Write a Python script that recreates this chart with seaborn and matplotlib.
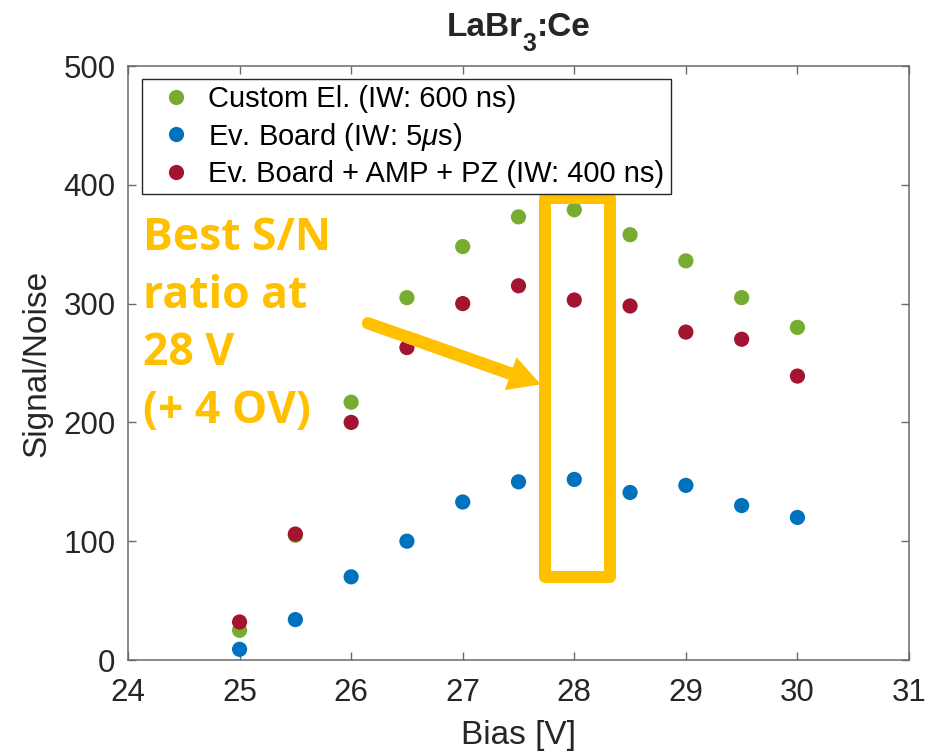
import matplotlib
matplotlib.use("Agg")
import matplotlib.pyplot as plt
from matplotlib.patches import Rectangle, FancyArrowPatch
import pandas as pd
import seaborn as sns

# Bias voltage scan of the LaBr3:Ce + SiPM setup
bias_v = [25, 25.5, 26, 26.5, 27, 27.5, 28, 28.5, 29, 29.5, 30]
snr_custom = [25, 105, 217, 305, 348, 373, 379, 358, 336, 305, 280]
snr_evboard = [9, 34, 70, 100, 133, 150, 152, 141, 147, 130, 120]
snr_amp_pz = [32, 106, 200, 263, 300, 315, 303, 298, 276, 270, 239]

setups = ["Custom El. (IW: 600 ns)",
          r"Ev. Board (IW: 5$\mu$s)",
          "Ev. Board + AMP + PZ (IW: 400 ns)"]
colors = ["#77AC30", "#0072BD", "#A2142F"]

x_ticks = [24, 25, 26, 27, 28, 29, 30, 31]
y_ticks = [0, 100, 200, 300, 400, 500]

title_parts = ["LaBr", "3", ":Ce"]   # chemical formula, "3" as subscript
note_text = "Best S/N\nratio at\n28 V\n(+ 4 OV)"
highlight = "#FFC000"

df = pd.concat([
    pd.DataFrame({"bias": bias_v, "snr": vals, "setup": name})
    for name, vals in zip(setups, [snr_custom, snr_evboard, snr_amp_pz])
], ignore_index=True)

sns.set_theme(style="ticks")
plt.rcParams["font.family"] = ["Liberation Sans", "DejaVu Sans"]
plt.rcParams["mathtext.fontset"] = "custom"
plt.rcParams["mathtext.rm"] = "Liberation Sans"
plt.rcParams["mathtext.it"] = "Liberation Sans:italic"
plt.rcParams["mathtext.bf"] = "Liberation Sans:bold"

W, H = 940, 755
axis_col = "#262626"
fig = plt.figure(figsize=(W / 100, H / 100), dpi=100)
ax_l, ax_r, ax_t, ax_b = 128, 909, 66, 660
ax = fig.add_axes([ax_l / W, 1 - ax_b / H, (ax_r - ax_l) / W, (ax_b - ax_t) / H])

sns.scatterplot(data=df, x="bias", y="snr", hue="setup", hue_order=setups,
                palette=colors, s=120, linewidth=0, ax=ax, zorder=3)

ax.set_xlim(24, 31)
ax.set_ylim(0, 500)
ax.set_xticks(x_ticks)
ax.set_yticks(y_ticks)
ax.set_xlabel("Bias [V]", fontsize=24, color=axis_col)
ax.set_ylabel("Signal/Noise", fontsize=24, color=axis_col)
ax.xaxis.set_label_coords(0.5, -0.101)
ax.yaxis.set_label_coords(-0.0973, 0.5)

for sp in ax.spines.values():
    sp.set_visible(True)
    sp.set_color("#6a6a6a")
    sp.set_linewidth(1.1)
ax.tick_params(axis="both", direction="in", length=5.5, width=1.0,
               color="#6a6a6a", labelsize=22.5, labelcolor=axis_col,
               top=True, right=True)
ax.tick_params(axis="x", pad=13)
ax.tick_params(axis="y", pad=9)

sns.move_legend(ax, "upper left",
                bbox_to_anchor=(14 / (ax_r - ax_l), (ax_b - 79) / (ax_b - ax_t)),
                borderaxespad=0, title=None, fontsize=21, frameon=True,
                fancybox=False, framealpha=1, edgecolor=axis_col,
                borderpad=0.22, labelspacing=0.25, handlelength=1.89,
                handletextpad=0.17)
leg = ax.get_legend()
leg.get_frame().set_linewidth(1.0)
for t in leg.get_texts():
    t.set_color("black")

# Title: formula with a large, dropped subscript
renderer = fig.canvas.get_renderer()
title_texts = [
    fig.text(0, 0, title_parts[0], fontsize=24, fontweight="bold", va="baseline"),
    fig.text(0, 0, title_parts[1], fontsize=18, fontweight="bold", va="baseline"),
    fig.text(0, 0, title_parts[2], fontsize=24, fontweight="bold", va="baseline"),
]
widths = [t.get_window_extent(renderer).width for t in title_texts]
x_px = (ax_l + ax_r) / 2 - sum(widths) / 2
for t, w, base in zip(title_texts, widths, [36, 51, 36]):
    t.set_position((x_px / W, 1 - base / H))
    x_px += w

# Highlight of the best operating point
ax.add_patch(Rectangle((27.74, 69.9), 28.318 - 27.74, 389.3 - 69.9,
                       fill=False, edgecolor=highlight, linewidth=8.6,
                       joinstyle="round", zorder=5))
arrow_start = (26.15, 283.5)
arrow_tip = (27.70, 232.0)
ax.plot([arrow_start[0], 27.45], [arrow_start[1], 240.5], color=highlight,
        lw=8.8, solid_capstyle="round", zorder=5)
ax.add_patch(FancyArrowPatch((26.5, 272.0), arrow_tip,
                             arrowstyle="simple,head_length=2.3,head_width=2.5,tail_width=0.9",
                             mutation_scale=10, color=highlight, linewidth=0,
                             shrinkA=0, shrinkB=0, zorder=5))
ax.text(0.0192, 0.7475, note_text, transform=ax.transAxes, ha="left", va="top",
        fontsize=32, fontweight="bold", color=highlight, linespacing=1.37,
        family=["Open Sans", "DejaVu Sans"], zorder=6)

fig.savefig("out.png", dpi=100)
